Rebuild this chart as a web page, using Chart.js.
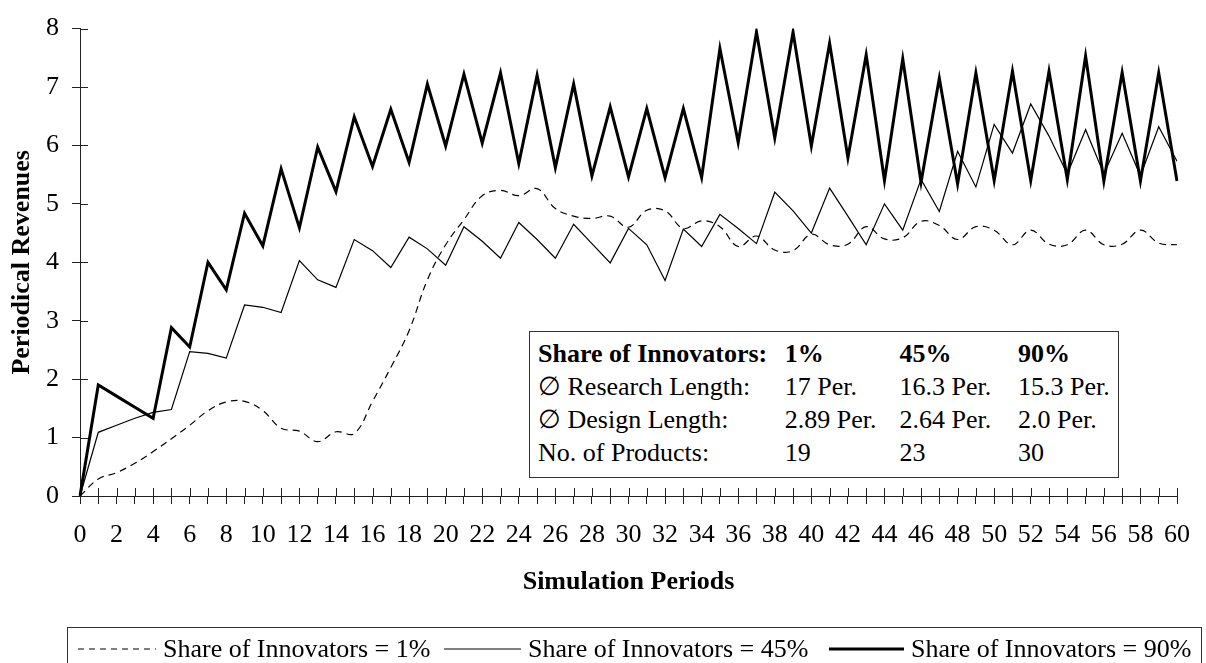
<!DOCTYPE html>
<html>
<head>
<meta charset="utf-8">
<script src="https://cdn.jsdelivr.net/npm/chart.js@4/dist/chart.umd.min.js"></script>
<style>
  body { margin: 0; background: #fff; }
  #wrap { position: relative; width: 1206px; height: 663px; overflow: hidden; font-family: "Liberation Serif", "Times New Roman", serif; color: #000; }
  #stats { position: absolute; left: 529px; top: 331px; width: 588px; height: 145px; border: 1px solid #333; background: #fff; font-size: 26px; }
  #stats table { border-collapse: collapse; margin: 5px 0 0 8px; }
  #stats td { padding: 0; height: 33px; line-height: 33px; white-space: nowrap; }
  #stats tr.head td { font-weight: bold; }
  #legend { position: absolute; left: 67px; top: 627px; width: 1135px; height: 60px; border: 1px solid #333; font-size: 26px; box-sizing: border-box; }
  .item { position: absolute; top: 0; display: flex; align-items: center; height: 42px; white-space: nowrap; }
  .item svg { margin-right: 7px; }
</style>
</head>
<body>
<div id="wrap">
  <canvas id="chart" width="1206" height="663"></canvas>
  <div id="stats"></div>
  <div id="legend"></div>
</div>
<script>
// simulation periods 0..60
const periods = [0,1,2,3,4,5,6,7,8,9,10,11,12,13,14,15,16,17,18,19,20,
  21,22,23,24,25,26,27,28,29,30,31,32,33,34,35,36,37,38,39,40,
  41,42,43,44,45,46,47,48,49,50,51,52,53,54,55,56,57,58,59,60];

// periodical revenues, share of innovators = 1%
const share1 = [0,0.29,0.40,0.56,0.76,0.98,1.21,1.46,1.61,1.62,1.46,
  1.16,1.11,0.93,1.10,1.07,1.62,2.20,2.83,3.70,4.30,
  4.73,5.14,5.23,5.14,5.26,4.92,4.79,4.75,4.79,4.60,
  4.89,4.88,4.58,4.71,4.61,4.27,4.45,4.21,4.20,4.48,
  4.30,4.31,4.61,4.40,4.42,4.70,4.63,4.39,4.61,4.55,
  4.30,4.55,4.31,4.30,4.55,4.30,4.31,4.55,4.33,4.30];

// share of innovators = 45%
const share45 = [0,1.09,1.21,1.33,1.43,1.48,2.47,2.44,2.36,3.27,3.23,
  3.14,4.03,3.70,3.57,4.39,4.20,3.91,4.43,4.23,3.95,
  4.61,4.36,4.07,4.68,4.39,4.07,4.65,4.32,3.99,4.58,
  4.30,3.69,4.57,4.27,4.82,4.58,4.32,5.20,4.88,4.50,
  5.27,4.79,4.30,5.00,4.55,5.42,4.87,5.90,5.29,6.36,
  5.87,6.71,6.16,5.51,6.27,5.51,6.21,5.48,6.32,5.73];

// share of innovators = 90%
const share90 = [0,1.90,1.71,1.52,1.33,2.88,2.55,4.00,3.53,4.84,4.28,
  5.60,4.59,5.97,5.21,6.49,5.64,6.62,5.71,7.05,5.99,
  7.22,6.04,7.24,5.69,7.20,5.62,7.05,5.48,6.66,5.46,
  6.63,5.45,6.63,5.45,7.66,6.05,7.94,6.13,7.94,5.99,
  7.75,5.79,7.55,5.40,7.48,5.37,7.15,5.34,7.24,5.40,
  7.27,5.40,7.27,5.42,7.53,5.39,7.25,5.39,7.24,5.39];

const seriesNames = ["Share of Innovators = 1%", "Share of Innovators = 45%", "Share of Innovators = 90%"];

// inset table
const statHeader = ["Share of Innovators:", "1%", "45%", "90%"];
const statRows = [
  ["\u2205 Research Length:", "17 Per.", "16.3 Per.", "15.3 Per."],
  ["\u2205 Design Length:", "2.89 Per.", "2.64 Per.", "2.0 Per."],
  ["No. of Products:", "19", "23", "30"]
];

const FONT = "'Liberation Serif', 'Times New Roman', serif";

// draws the inner half of every tick so the marks cross the axis
const crossTicks = {
  id: "crossTicks",
  beforeDatasetsDraw(chart) {
    const ctx = chart.ctx;
    const xs = chart.scales.x, ys = chart.scales.y;
    ctx.save();
    ctx.strokeStyle = "#222";
    ctx.lineWidth = 1;
    ctx.beginPath();
    xs.ticks.forEach((t, i) => {
      const px = Math.round(xs.getPixelForTick(i)) + 0.5;
      ctx.moveTo(px, xs.top);
      ctx.lineTo(px, xs.top - 8);
    });
    ys.ticks.forEach((t, i) => {
      const py = Math.round(ys.getPixelForTick(i)) + 0.5;
      ctx.moveTo(ys.right, py);
      ctx.lineTo(ys.right + 8, py);
    });
    ctx.stroke();
    ctx.restore();
  }
};

const lineDefaults = { pointRadius: 0, borderColor: "#000", backgroundColor: "#000", fill: false };

new Chart(document.getElementById("chart").getContext("2d"), {
  type: "line",
  data: {
    labels: periods,
    datasets: [
      { ...lineDefaults, label: seriesNames[0], data: share1, borderWidth: 1.2, borderDash: [7, 5], tension: 0.4 },
      { ...lineDefaults, label: seriesNames[1], data: share45, borderWidth: 1.2, tension: 0 },
      { ...lineDefaults, label: seriesNames[2], data: share90, borderWidth: 3, tension: 0 }
    ]
  },
  options: {
    responsive: false,
    devicePixelRatio: 1,
    animation: false,
    layout: { padding: { left: 0, right: 23, top: 20, bottom: 63 } },
    plugins: { legend: { display: false }, tooltip: { enabled: false } },
    scales: {
      x: {
        type: "category",
        offset: false,
        grid: { display: true, drawOnChartArea: false, drawTicks: true, tickLength: 8, color: "#222" },
        border: { display: true, color: "#222", width: 1 },
        ticks: {
          autoSkip: false, maxRotation: 0, padding: 16, color: "#000",
          font: { family: FONT, size: 26 },
          callback: function (v, i) { const p = periods[i]; return p % 2 === 0 ? String(p) : ""; }
        },
        title: { display: true, text: "Simulation Periods", color: "#000", padding: { top: 0, bottom: 2 },
          font: { family: FONT, size: 26, weight: "bold" } },
        afterFit: function (s) { s.height = 104; }
      },
      y: {
        min: 0, max: 8,
        grid: { display: true, drawOnChartArea: false, drawTicks: true, tickLength: 8, color: "#222" },
        border: { display: true, color: "#222", width: 1 },
        ticks: { stepSize: 1, padding: 13, color: "#000", font: { family: FONT, size: 26 } },
        title: { display: true, text: "Periodical Revenues", color: "#000", padding: { top: 7, bottom: 0 },
          font: { family: FONT, size: 26, weight: "bold" } },
        afterFit: function (s) { s.width = 80; }
      }
    }
  },
  plugins: [crossTicks]
});

// inset statistics table
const stats = document.getElementById("stats");
const colW = [247, 115, 119, 100];
let html = "<table><tr class='head'>" + statHeader.map((h, i) => "<td style='width:" + colW[i] + "px'>" + h + "</td>").join("") + "</tr>";
statRows.forEach(r => { html += "<tr>" + r.map(c => "<td>" + c + "</td>").join("") + "</tr>"; });
stats.innerHTML = html + "</table>";

// legend with line samples
const legend = document.getElementById("legend");
const sampleStyles = [
  { w: 1.2, dash: "6 5", left: 10, len: 78 },
  { w: 1.2, dash: "", left: 376, len: 77 },
  { w: 3, dash: "", left: 761, len: 75 }
];
seriesNames.forEach((name, i) => {
  const st = sampleStyles[i];
  const item = document.createElement("div");
  item.className = "item";
  item.style.left = st.left + "px";
  item.innerHTML = "<svg width='" + st.len + "' height='10'><line x1='0' y1='5' x2='" + st.len + "' y2='5' stroke='#000' stroke-width='" + st.w + "'" +
    (st.dash ? " stroke-dasharray='" + st.dash + "'" : "") + "/></svg><span>" + name + "</span>";
  legend.appendChild(item);
});
</script>
</body>
</html>
